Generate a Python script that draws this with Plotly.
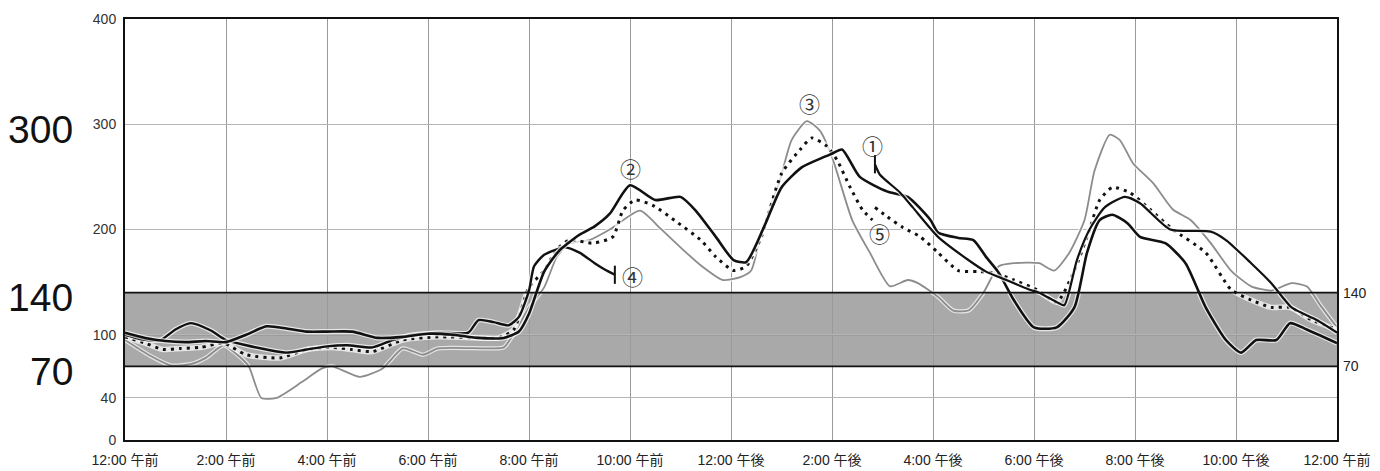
import plotly.graph_objects as go

# ---------------- data (hours since midnight, mg/dL) ----------------
TICK_HOURS = [0, 2, 4, 6, 8, 10, 12, 14, 16, 18, 20, 22, 24]
TICK_LABELS = ["12:00 午前", "2:00 午前", "4:00 午前", "6:00 午前", "8:00 午前",
               "10:00 午前", "12:00 午後", "2:00 午後", "4:00 午後", "6:00 午後",
               "8:00 午後", "10:00 午後", "12:00 午前"]
Y_TICKS = [0, 40, 100, 200, 300, 400]
TARGET_LOW = 70
TARGET_HIGH = 140
SIDE_LABELS = [300, 140, 70]

# ② black, whole day
t2 = [0, 0.4, 0.8, 1.2, 1.6, 2.0, 2.4, 2.8, 3.2, 3.6, 4.0, 4.5, 5.0, 5.5, 6.0, 6.5,
      7.0, 7.5, 7.8, 8.0, 8.3, 8.6, 9.0, 9.3, 9.6, 10.0, 10.5, 11.0, 11.3, 11.7,
      12.05, 12.3, 12.65, 13.0, 13.4, 13.8, 14.0, 14.2, 14.55, 15.1, 15.5, 15.95,
      16.1, 16.5, 16.8, 17.05, 17.3, 17.6, 18.0, 18.45, 18.8, 19.05, 19.3, 19.55,
      19.85, 20.1, 20.6, 21.0, 21.4, 21.8, 22.1, 22.4, 22.8, 23.07, 23.4, 24.0]
v2 = [102, 97, 94, 93, 94, 93, 100, 108, 106, 103, 103, 103, 97, 98, 101, 100,
      97, 97, 103, 120, 160, 180, 195, 203, 215, 242, 228, 231, 218, 193,
      171, 169, 202, 240, 259, 268, 272, 276, 250, 236, 231, 209,
      197, 192, 190, 174, 159, 133, 107, 107, 126, 178, 209, 214,
      206, 193, 187, 168, 126, 95, 83, 95, 95, 111, 105, 92]

# ① black, starts mid-afternoon
t1 = [14.85, 14.95, 15.35, 15.6, 16.1, 16.7, 17.05, 17.45, 17.9, 18.1, 18.45, 18.6,
      18.85, 19.1, 19.4, 19.8, 20.1, 20.7, 21.5, 21.8, 22.3, 22.7, 23.1, 23.6, 24.0]
v1 = [262, 252, 235, 221, 193, 171, 160, 152, 143, 140, 131, 128,
      171, 200, 221, 231, 225, 200, 198, 190, 168, 149, 126, 114, 102]

# ③ gray, whole day
t3 = [0, 0.5, 0.9, 1.3, 1.6, 1.95, 2.2, 2.45, 2.7, 3.0, 3.5, 3.9, 4.1, 4.65, 5.1,
      5.5, 5.9, 6.2, 7.2, 7.5, 7.75, 8.0, 8.3, 8.55, 8.8, 9.2, 9.6, 10.2, 10.6,
      11.0, 11.4, 11.84, 12.2, 12.4, 12.6, 12.97, 13.2, 13.5, 13.76, 14.0, 14.4,
      14.75, 15.15, 15.5, 15.7, 16.1, 16.4, 16.7, 17.0, 17.3, 17.6, 18.1, 18.4,
      18.7, 19.0, 19.2, 19.5, 19.7, 19.96, 20.36, 20.75, 21.1, 21.5, 21.9, 22.3,
      22.7, 23.1, 23.4, 23.7, 24.0]
v3 = [95, 80, 71, 72, 78, 90, 82, 70, 40, 40, 55, 68, 70, 60, 68,
      87, 81, 87, 87, 88, 105, 126, 145, 174, 187, 190, 200, 218, 201,
      183, 166, 152, 155, 161, 197, 247, 285, 303, 294, 269, 209,
      178, 146, 152, 149, 136, 123, 123, 140, 165, 168, 168, 161,
      178, 209, 256, 290, 285, 263, 244, 219, 209, 187, 161, 146,
      142, 149, 146, 126, 107]

# ④ black, ends mid-morning
t4 = [0, 0.3, 0.7, 1.0, 1.3, 1.7, 2.0, 2.4, 2.8, 3.2, 3.6, 4.0, 4.4, 4.9, 5.3,
      5.7, 6.2, 6.8, 7.0, 7.3, 7.6, 7.8, 8.0, 8.1, 8.3, 8.7, 9.0, 9.3, 9.5, 9.7]
v4 = [100, 96, 95, 105, 111, 104, 95, 90, 86, 83, 86, 89, 90, 88, 95,
      100, 102, 102, 114, 112, 109, 117, 142, 165, 176, 183, 178, 168, 162, 157]

# ⑤ dotted, whole day (short break mid-afternoon)
t5 = [0, 0.4, 0.75, 1.1, 1.5, 1.95, 2.4, 3.07, 3.6, 4.1, 4.5, 4.9, 5.5, 6.2, 7.0,
      7.4, 7.7, 8.0, 8.3, 8.55, 8.8, 9.27, 9.66, 9.86, 10.1, 10.45, 10.93, 11.4,
      11.7, 12.05, 12.3, 12.6, 13.0, 13.37, 13.6, 13.9, 14.1, 14.35, 14.6, 14.8,
      14.82, 14.85, 15.1, 15.4, 15.75, 16.1, 16.5, 16.9, 17.2, 17.6, 18.05, 18.45,
      18.8, 19.1, 19.3, 19.55, 19.9, 20.3, 20.75, 21.4, 21.9, 22.3, 22.7, 23.07,
      23.5, 24.0]
v5 = [98, 92, 86, 87, 88, 92, 81, 78, 86, 88, 86, 84, 95, 98, 97,
      97, 105, 145, 161, 181, 190, 187, 193, 218, 228, 223, 207, 190,
      174, 161, 165, 193, 253, 276, 287, 279, 266, 241, 219, 209,
      None, 221, 212, 202, 193, 178, 161, 160, 159, 152, 143, 131,
      161, 200, 228, 240, 235, 219, 200, 178, 143, 133, 126, 126,
      114, 105]

# label positions for the circled numbers
LABELS = ["①", "②", "③", "④", "⑤"]
LABEL_X = [14.8, 10.0, 13.55, 10.05, 14.95]
LABEL_Y = [280, 258, 320, 156, 197]

# ---------------- figure ----------------
fig = go.Figure()

BAND_FILL = "rgba(150,150,150,0.82)"
GRID = "#9a9a9a"

fig.add_shape(type="rect", xref="paper", yref="y", x0=0, x1=1,
              y0=TARGET_LOW, y1=TARGET_HIGH, fillcolor=BAND_FILL,
              line=dict(width=0), layer="below")
fig.add_shape(type="line", xref="paper", yref="y", x0=0, x1=1,
              y0=Y_TICKS[2], y1=Y_TICKS[2], line=dict(color="#7a7a7a", width=1),
              layer="below")
for yv in (TARGET_LOW, TARGET_HIGH):
    fig.add_shape(type="line", xref="paper", yref="y", x0=0, x1=1,
                  y0=yv, y1=yv, line=dict(color="#111111", width=1.6),
                  layer="above")


def add_line(t, v, color, width, dash=None, name=""):
    fig.add_trace(go.Scatter(x=t, y=v, mode="lines", name=name + "h",
                             line=dict(color="rgba(255,255,255,0.7)", width=width + 2.5,
                                       shape="spline", smoothing=0.6),
                             hoverinfo="skip", showlegend=False, connectgaps=False))
    fig.add_trace(go.Scatter(x=t, y=v, mode="lines", name=name,
                             line=dict(color=color, width=width, dash=dash,
                                       shape="spline", smoothing=0.6),
                             showlegend=False, connectgaps=False))


add_line(t3, v3, "#8c8c8c", 1.8, name="③")
add_line(t5, v5, "#111111", 3, dash="3px,5px", name="⑤")
add_line(t4, v4, "#111111", 2.4, name="④")
add_line(t2, v2, "#111111", 2.6, name="②")
add_line(t1, v1, "#111111", 2.2, name="①")

# end / start ticks for ④ and ①
fig.add_trace(go.Scatter(x=[t4[-1], t1[0]], y=[v4[-1], v1[0]], mode="markers",
                         marker=dict(symbol="line-ns", size=13,
                                     line=dict(color="#111111", width=2)),
                         showlegend=False, hoverinfo="skip"))

for lab, lx, ly in zip(LABELS, LABEL_X, LABEL_Y):
    fig.add_annotation(x=lx, y=ly, text=lab, showarrow=False,
                       font=dict(size=21, color="#333333",
                                 family="Noto Sans CJK JP"))

for val in SIDE_LABELS:
    fig.add_annotation(xref="paper", yref="y", x=-0.041, y=val - 5,
                       text=str(val), showarrow=False, xanchor="right",
                       font=dict(size=39, color="#111111",
                                 family="Liberation Sans"))

# invisible trace to activate right axis
fig.add_trace(go.Scatter(x=[0], y=[0], yaxis="y2", mode="markers",
                         marker=dict(opacity=0), showlegend=False, hoverinfo="skip"))

# page body has an 8px margin, so the figure is sized/offset to compensate
fig.update_layout(
    width=1372, height=463,
    margin=dict(l=117, r=43, t=11, b=31),
    paper_bgcolor="white", plot_bgcolor="white",
    font=dict(family="Liberation Sans, Noto Sans CJK JP", color="#222222"),
    xaxis=dict(range=[0, 24], tickvals=TICK_HOURS, ticktext=TICK_LABELS,
               showgrid=True, gridcolor=GRID, gridwidth=1,
               showline=True, linecolor="#111111", linewidth=2, mirror=True,
               ticks="", tickfont=dict(size=14, family="Liberation Sans, Noto Sans CJK JP"),
               ticklabelstandoff=6, automargin=False, zeroline=False),
    yaxis=dict(range=[0, 400], tickvals=Y_TICKS,
               showgrid=True, gridcolor="#b5b5b5", gridwidth=1,
               showline=True, linecolor="#111111", linewidth=2, mirror=True,
               ticks="", tickfont=dict(size=14, color="#333333"),
               ticklabelstandoff=4, automargin=False, zeroline=False),
    yaxis2=dict(range=[0, 400], overlaying="y", side="right",
                tickvals=[TARGET_LOW, TARGET_HIGH], showgrid=False,
                showline=False, ticks="", zeroline=False,
                ticklabelstandoff=5, automargin=False,
                tickfont=dict(size=14, color="#222222")),
)

fig.write_html("out.html")
